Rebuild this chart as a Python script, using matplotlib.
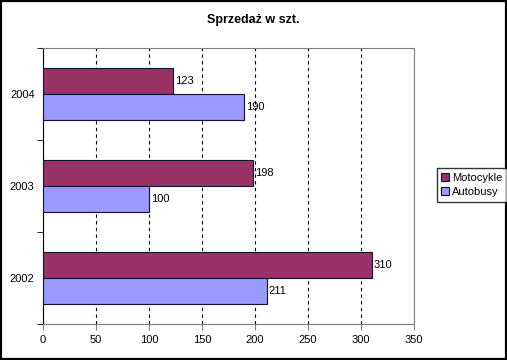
import matplotlib.pyplot as plt
import numpy as np
from matplotlib.patches import Rectangle

plt.rcParams['font.family'] = ['Liberation Sans', 'DejaVu Sans']

years = ['2002', '2003', '2004']
motocykle = [310, 198, 123]
autobusy = [211, 100, 190]
xticks = [0, 50, 100, 150, 200, 250, 300, 350]

fig = plt.figure(figsize=(5.07, 3.6), dpi=100)
ax = fig.add_axes([43/507, 1-324/360, (414-43)/507, (324-48)/360])

y = np.arange(len(years))
h = 0.283
b1 = ax.barh(y + h/2, motocykle, height=h, color='#993366', edgecolor='#111133', linewidth=0.8, label='Motocykle', zorder=3)
b2 = ax.barh(y - h/2, autobusy, height=h, color='#9999FF', edgecolor='#111133', linewidth=0.8, label='Autobusy', zorder=3)

for r, v in zip(b1, motocykle):
    ax.text(v + 2, r.get_y() + r.get_height()/2, str(v), va='center', ha='left', fontsize=8)
for r, v in zip(b2, autobusy):
    ax.text(v + 2, r.get_y() + r.get_height()/2, str(v), va='center', ha='left', fontsize=8)

ax.set_xlim(0, 350)
ax.set_ylim(-0.5, 2.5)
ax.set_xticks(xticks)
ax.set_xticklabels([str(t) for t in xticks], fontsize=8)
ax.set_yticks(y)
ax.set_yticklabels(years, fontsize=8)
ax.tick_params(axis='y', which='major', length=0, pad=6)
ax.set_yticks([-0.5, 0.5, 1.5, 2.5], minor=True)
ax.tick_params(axis='y', which='minor', length=4, direction='out', color='black')
ax.tick_params(axis='x', length=4, direction='out', color='#808080', pad=4)

ax.xaxis.grid(True, linestyle=(0, (3, 3)), color='black', linewidth=0.8, zorder=0)
ax.set_axisbelow(True)
for s in ['top', 'right', 'bottom']:
    ax.spines[s].set_color('#808080')
ax.spines['left'].set_color('black')

fig.text(0.5, 1-20/360, 'Sprzedaż w szt.', fontsize=9, fontweight='bold', ha='center', va='center')

handles, labels = ax.get_legend_handles_labels()
fig.legend(handles, labels, loc='center left', bbox_to_anchor=(431/507, 1-185/360),
           fontsize=8, frameon=True, fancybox=False, edgecolor='black',
           handlelength=0.7, handleheight=0.7, handletextpad=0.3, borderpad=0.4,
           labelspacing=0.4)

fig.patches.append(Rectangle((0, 0), 1, 1, transform=fig.transFigure, fill=False,
                             edgecolor='black', linewidth=3))

fig.savefig('out.png', dpi=100)
